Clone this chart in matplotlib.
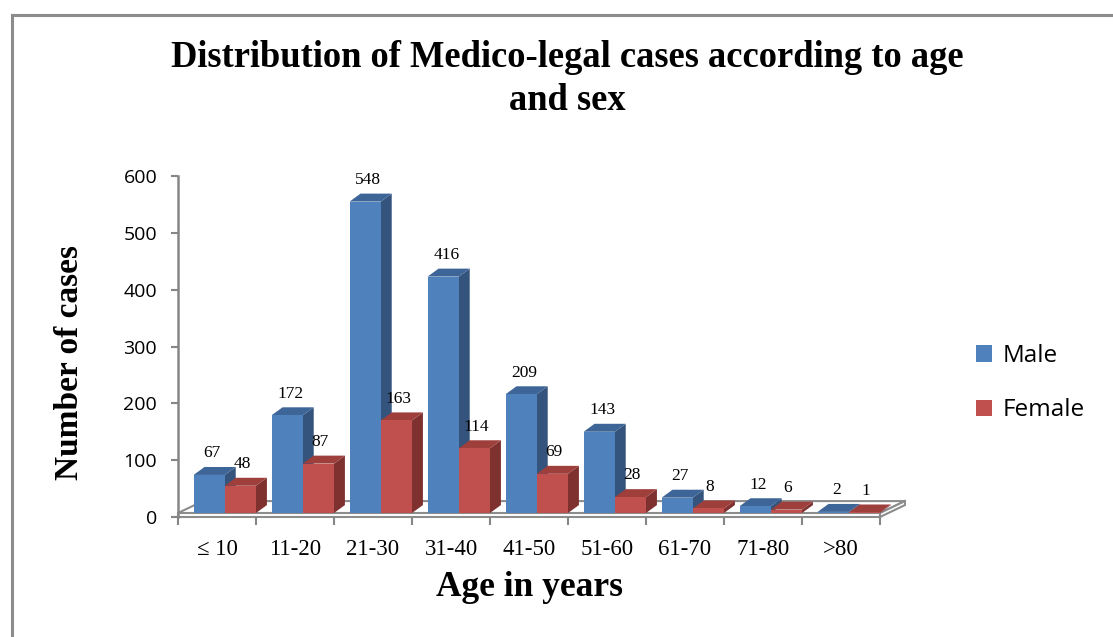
import matplotlib.pyplot as plt
from matplotlib.patches import Polygon, Rectangle, Patch
from matplotlib.lines import Line2D

# data
age_groups = ["\u2264 10", "11-20", "21-30", "31-40", "41-50", "51-60", "61-70", "71-80", ">80"]
male = [67, 172, 548, 416, 209, 143, 27, 12, 2]
female = [48, 87, 163, 114, 69, 28, 8, 6, 1]

# colours (front, top, side)
blue = ("#4F81BD", "#3E6597", "#34547D")
red = ("#C0504D", "#9E3F3C", "#7E312F")

serif = ["Liberation Serif", "DejaVu Serif"]
sans = ["Open Sans", "DejaVu Sans"]

# 3d look settings
bar_w = 0.40
dx, dy = 0.14, 14      # depth of a bar (x in categories, y in value units)
base = 7               # bars stand on top of the floor slab
fdx, fdy = 0.32, 21    # floor depth


def bar3d(ax, x0, h, cols):
    # side, top, then front
    y0 = base
    y1 = base + h
    side = Polygon([(x0 + bar_w, y0), (x0 + bar_w + dx, y0 + dy),
                    (x0 + bar_w + dx, y1 + dy), (x0 + bar_w, y1)],
                   closed=True, facecolor=cols[2], edgecolor="none", clip_on=False, zorder=3)
    top = Polygon([(x0, y1), (x0 + bar_w, y1), (x0 + bar_w + dx, y1 + dy), (x0 + dx, y1 + dy)],
                  closed=True, facecolor=cols[1], edgecolor="none", clip_on=False, zorder=3)
    front = Rectangle((x0, y0), bar_w, h, facecolor=cols[0], edgecolor="none",
                      clip_on=False, zorder=3)
    ax.add_patch(side)
    ax.add_patch(top)
    ax.add_patch(front)


fig = plt.figure(figsize=(11.13, 6.37), dpi=100)
ax = fig.add_axes([178 / 1113, 1 - 517 / 637, 702 / 1113, 341 / 637])
ax.set_xlim(-0.5, 8.5)
ax.set_ylim(0, 600)

# floor slab
n = len(age_groups)
xl, xr = -0.5, n - 0.5
floor_col = "#8C8C8C"
ax.add_patch(Polygon([(xl, base), (xr, base), (xr + fdx, base + fdy), (xl + fdx, base + fdy)],
                     closed=True, facecolor="white", edgecolor=floor_col, lw=1.5,
                     clip_on=False, zorder=1))
ax.add_patch(Polygon([(xl, 0), (xr, 0), (xr, base), (xl, base)],
                     closed=True, facecolor="white", edgecolor=floor_col, lw=1.5,
                     clip_on=False, zorder=1))
ax.add_patch(Polygon([(xr, 0), (xr + fdx, fdy), (xr + fdx, base + fdy), (xr, base)],
                     closed=True, facecolor="white", edgecolor=floor_col, lw=1.5,
                     clip_on=False, zorder=1))

# bars and value labels
for i in range(n):
    xb = i - 0.30
    xr_ = i + 0.10
    bar3d(ax, xb, male[i], blue)
    bar3d(ax, xr_, female[i], red)
    ax.text(xb + bar_w / 2 + 0.04, base + male[i] + dy + 10, str(male[i]),
            ha="center", va="bottom", fontsize=12.5, family=serif, zorder=5)
    ax.text(xr_ + bar_w / 2 + 0.02, base + female[i] + dy + 10, str(female[i]),
            ha="center", va="bottom", fontsize=12.5, family=serif, zorder=5)

# axes
for s in ["top", "right"]:
    ax.spines[s].set_visible(False)
ax.spines["left"].set_color("#868686")
ax.spines["left"].set_linewidth(1.8)
ax.spines["bottom"].set_visible(False)
ax.set_yticks(range(0, 601, 100))
ax.tick_params(axis="y", length=5, width=1.5, color="#868686", pad=10, labelsize=14)
for lbl in ax.get_yticklabels():
    lbl.set_family(sans)
ax.set_xticks(range(n))
ax.set_xticklabels(age_groups, family=serif, fontsize=16.5)
ax.set_xticks([i - 0.5 for i in range(n + 1)], minor=True)
ax.tick_params(axis="x", which="major", length=0, pad=16)
ax.tick_params(axis="x", which="minor", length=6, width=1.5, color="#868686")

# axis titles
fig.text(70 / 1113, 1 - 363 / 637, "Number of cases", rotation=90,
         ha="center", va="center", family=serif, fontsize=24, fontweight="bold")
fig.text(530 / 1113, 1 - 587 / 637, "Age in years",
         ha="center", va="center", family=serif, fontsize=25.5, fontweight="bold")

fig.text(567 / 1113, 1 - 79 / 637,
         "Distribution of Medico-legal cases according to age\nand sex",
         ha="center", va="center", family=serif, fontsize=26.3, fontweight="bold",
         linespacing=1.28)

# legend
handles = [Patch(facecolor=blue[0]), Patch(facecolor=red[0])]
fig.legend(handles, ["Male", "Female"], loc="upper left",
           bbox_to_anchor=(976 / 1113, 1 - 344 / 637), frameon=False,
           prop={"family": sans, "size": 17.5}, handlelength=0.65, handleheight=0.65,
           handletextpad=0.45, labelspacing=1.25, borderpad=0, borderaxespad=0)

# outer border of the chart area
fig.add_artist(Line2D([12 / 1113, 1.0], [1 - 15 / 637, 1 - 15 / 637],
                      transform=fig.transFigure, color="#8C8C8C", lw=2.2))
fig.add_artist(Line2D([12 / 1113, 12 / 1113], [0, 1 - 15 / 637],
                      transform=fig.transFigure, color="#8C8C8C", lw=2.2))

fig.savefig("out.png", dpi=100)
